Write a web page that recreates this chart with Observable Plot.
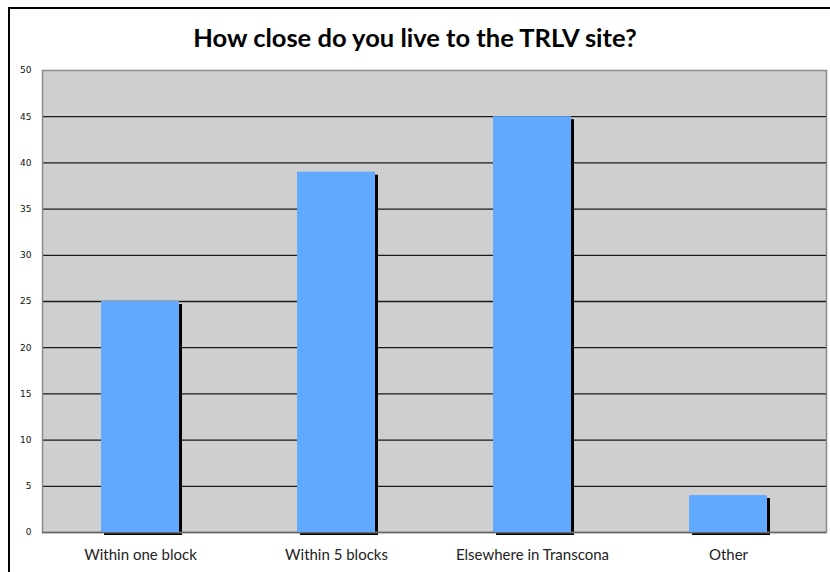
<!DOCTYPE html>
<html>
<head>
<meta charset="utf-8">
<script src="https://cdn.jsdelivr.net/npm/d3@7"></script>
<script src="https://cdn.jsdelivr.net/npm/@observablehq/plot@0.6"></script>
<style>
  html, body { margin: 0; padding: 0; background: #fff; }
  #wrap { position: relative; width: 830px; height: 572px; overflow: hidden; }
  #frame { position: absolute; left: 8px; top: 7px; right: 0; bottom: -5px;
           border-left: 2.5px solid #000; border-top: 2.5px solid #000; pointer-events: none; }
  #title { height: 50px; line-height: 50px; padding-top: 12px; box-sizing: border-box;
           text-align: center; font-family: Lato, "Open Sans", sans-serif; font-weight: bold;
           font-size: 25.5px; color: #000; }
  #chart svg { display: block; }
</style>
</head>
<body>
<div id="wrap">
  <div id="title">How close do you live to the TRLV site?</div>
  <div id="chart"></div>
  <div id="frame"></div>
</div>
<script>
const categories = ["Within one block", "Within 5 blocks", "Elsewhere in Transcona", "Other"];
const values = [25, 39, 45, 4];
const yTicks = [0, 5, 10, 15, 20, 25, 30, 35, 40, 45, 50];
const gridLines = [5, 10, 15, 20, 25, 30, 35, 40, 45];

const data = categories.map((c, i) => ({category: c, value: values[i]}));

const chart = Plot.plot({
  width: 830,
  height: 522,
  marginTop: 20,
  marginBottom: 40,
  marginLeft: 42,
  marginRight: 4,
  style: {background: "transparent", overflow: "visible"},
  x: {domain: categories, paddingInner: 0.6, paddingOuter: 0.3, label: null, tickSize: 0, tickPadding: 17},
  y: {domain: [0, 50], label: null, ticks: yTicks, tickSize: 0, tickPadding: 11},
  marks: [
    Plot.frame({fill: "#cfcfcf", stroke: null}),
    Plot.ruleY(gridLines, {stroke: "#1a1a1a", strokeWidth: 1.3}),
    Plot.barY(data, {x: "category", y: "value", fill: "#000", dx: 3, dy: 3}),
    Plot.frame({stroke: "#8a8a8a", strokeWidth: 1.5, fill: null}),
    Plot.ruleY([0], {stroke: "#666", strokeWidth: 1.5}),
    Plot.barY(data, {x: "category", y: "value", fill: "#61a8ff"}),
    Plot.axisY({ticks: yTicks, tickSize: 0, tickPadding: 11, fontSize: 9, fontFamily: "DejaVu Sans", fill: "#111", label: null}),
    Plot.axisX({tickSize: 0, tickPadding: 17, fontSize: 15, fontFamily: "Lato, 'Open Sans', sans-serif", fill: "#222", label: null})
  ]
});
document.getElementById("chart").appendChild(chart);
</script>
</body>
</html>
